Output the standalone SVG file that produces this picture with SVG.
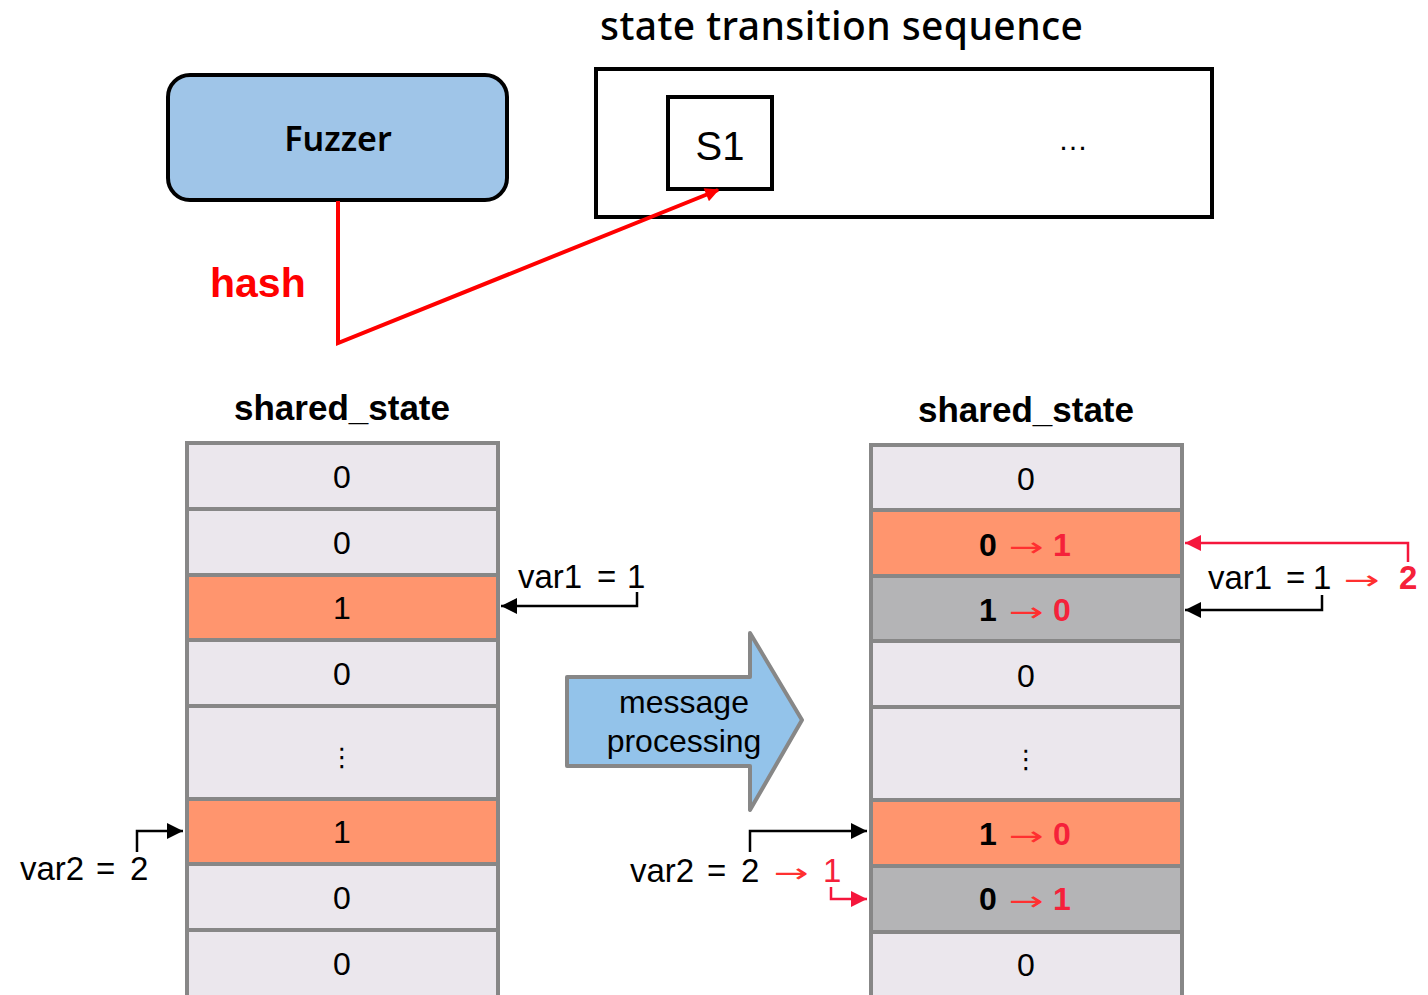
<svg xmlns="http://www.w3.org/2000/svg" width="1428" height="995" viewBox="0 0 1428 995">
<style>
.cell{fill:#ebe7ed;stroke:#878787;stroke-width:4}
.hot{fill:#ff956e;stroke:#878787;stroke-width:4}
.gry{fill:#b4b4b6;stroke:#878787;stroke-width:4}
.num{font-family:"Liberation Sans",Arial,sans-serif;font-size:32px;text-anchor:middle;fill:#000}
.lbl{font-family:"Liberation Sans",Arial,sans-serif;font-size:33px;fill:#000}
.hd{font-family:"Liberation Sans",Arial,sans-serif;font-size:35px;font-weight:bold;text-anchor:middle;fill:#000}
.r{fill:#f5213a}
.b{font-weight:bold}
.arw{font-family:"DejaVu Sans",sans-serif;font-size:26px;fill:#ff3030}
.blk{fill:none;stroke:#000;stroke-width:2.5}
.red{fill:none;stroke:#f5163c;stroke-width:2.5}
</style>
<defs>
<marker id="ab" viewBox="0 0 10 10" refX="10" refY="5" markerWidth="22" markerHeight="16" markerUnits="userSpaceOnUse" orient="auto"><path d="M0,0 L10,5 L0,10 z" fill="#000"/></marker>
<marker id="ar" viewBox="0 0 10 10" refX="10" refY="5" markerWidth="22" markerHeight="16" markerUnits="userSpaceOnUse" orient="auto"><path d="M0,0 L10,5 L0,10 z" fill="#f5163c"/></marker>
<marker id="ah" viewBox="0 0 10 10" refX="9" refY="5" markerWidth="18" markerHeight="14" markerUnits="userSpaceOnUse" orient="auto"><path d="M0,0 L10,5 L0,10 z" fill="#ff0000"/></marker>
</defs>
<rect width="1428" height="995" fill="#fff"/>

<g id="fuzzer">
<rect x="168" y="75" width="339" height="125" rx="22" fill="#9fc5e8" stroke="#000" stroke-width="4"/>
<text x="338" y="151" font-family="'Noto Sans',sans-serif" font-size="34" font-weight="600" text-anchor="middle">Fuzzer</text>
</g>

<g id="sequence">
<text x="600" y="40" font-family="'Noto Sans','Noto Sans CJK SC',sans-serif" font-size="39" font-weight="500" textLength="483" lengthAdjust="spacing">state transition sequence</text>
<rect x="596" y="69" width="616" height="148" fill="#fff" stroke="#000" stroke-width="4"/>
<g id="s1">
<rect x="668" y="97" width="104" height="92" fill="#fff" stroke="#000" stroke-width="4"/>
<text x="720" y="160" font-family="'Liberation Sans',Arial,sans-serif" font-size="40" text-anchor="middle">S1</text>
</g>
<text x="1073" y="150" font-family="'Liberation Sans',Arial,sans-serif" font-size="30" text-anchor="middle">…</text>
</g>

<g id="hash-label">
<text x="210" y="297" font-family="'Liberation Sans',Arial,sans-serif" font-size="41" font-weight="bold" fill="#ff0000">hash</text>
</g>

<g id="left-state">
<text x="342" y="420" class="hd">shared_state</text>
<rect x="187" y="443" width="311" height="66" class="cell"/>
<rect x="187" y="509" width="311" height="66" class="cell"/>
<rect x="187" y="575" width="311" height="65" class="hot"/>
<rect x="187" y="640" width="311" height="66" class="cell"/>
<rect x="187" y="706" width="311" height="93" class="cell"/>
<rect x="187" y="799" width="311" height="65" class="hot"/>
<rect x="187" y="864" width="311" height="66" class="cell"/>
<rect x="187" y="930" width="311" height="80" class="cell"/>
<text x="342" y="488" class="num">0</text>
<text x="342" y="554" class="num">0</text>
<text x="342" y="619" class="num">1</text>
<text x="342" y="685" class="num">0</text>
<text x="342" y="766" font-family="'DejaVu Sans',sans-serif" font-size="26" text-anchor="middle">⋮</text>
<text x="342" y="843" class="num">1</text>
<text x="342" y="909" class="num">0</text>
<text x="342" y="975" class="num">0</text>
</g>

<g id="right-state">
<text x="1026" y="422" class="hd">shared_state</text>
<rect x="871" y="445" width="311" height="65" class="cell"/>
<rect x="871" y="510" width="311" height="66" class="hot"/>
<rect x="871" y="576" width="311" height="65" class="gry"/>
<rect x="871" y="641" width="311" height="66" class="cell"/>
<rect x="871" y="707" width="311" height="93" class="cell"/>
<rect x="871" y="800" width="311" height="66" class="hot"/>
<rect x="871" y="866" width="311" height="66" class="gry"/>
<rect x="871" y="932" width="311" height="80" class="cell"/>
<text x="1026" y="490" class="num">0</text>
<text y="556" class="num"><tspan x="988" class="b">0</tspan><tspan x="1062" class="r b">1</tspan></text>
<text x="1009" y="556" class="arw" textLength="35" lengthAdjust="spacingAndGlyphs">→</text>
<text y="621" class="num"><tspan x="988" class="b">1</tspan><tspan x="1062" class="r b">0</tspan></text>
<text x="1009" y="621" class="arw" textLength="35" lengthAdjust="spacingAndGlyphs">→</text>
<text x="1026" y="687" class="num">0</text>
<text x="1026" y="768" font-family="'DejaVu Sans',sans-serif" font-size="26" text-anchor="middle">⋮</text>
<text y="845" class="num"><tspan x="988" class="b">1</tspan><tspan x="1062" class="r b">0</tspan></text>
<text x="1009" y="845" class="arw" textLength="35" lengthAdjust="spacingAndGlyphs">→</text>
<text y="910" class="num"><tspan x="988" class="b">0</tspan><tspan x="1062" class="r b">1</tspan></text>
<text x="1009" y="910" class="arw" textLength="35" lengthAdjust="spacingAndGlyphs">→</text>
<text x="1026" y="976" class="num">0</text>
</g>

<g id="message-processing">
<path d="M567,677 L750,677 L750,633 L802,720 L750,810 L750,766 L567,766 Z" fill="#93c3ea" stroke="#878787" stroke-width="4" stroke-linejoin="round"/>
<text x="684" y="713" class="num">message</text>
<text x="684" y="752" class="num">processing</text>
</g>

<g id="labels">
<text y="588" class="lbl"><tspan x="518">var1</tspan><tspan x="597">=</tspan><tspan x="627">1</tspan></text>
<text y="880" class="lbl"><tspan x="20">var2</tspan><tspan x="96">=</tspan><tspan x="130">2</tspan></text>
<text y="589" class="lbl"><tspan x="1208">var1</tspan><tspan x="1286">=</tspan><tspan x="1313">1</tspan><tspan x="1399" class="r b">2</tspan></text>
<text x="1344" y="589" class="arw" textLength="36" lengthAdjust="spacingAndGlyphs">→</text>
<text y="882" class="lbl"><tspan x="630">var2</tspan><tspan x="707">=</tspan><tspan x="741">2</tspan><tspan x="823" class="r">1</tspan></text>
<text x="774" y="882" class="arw" textLength="35" lengthAdjust="spacingAndGlyphs">→</text>
</g>

<g id="connectors">
<path d="M338,201 L338,343 L718,190" fill="none" stroke="#ff0000" stroke-width="4" marker-end="url(#ah)"/>
<path d="M637,592 L637,606 L501,606" class="blk" marker-end="url(#ab)"/>
<path d="M137,852 L137,831 L183,831" class="blk" marker-end="url(#ab)"/>
<path d="M1408,562 L1408,543 L1185,543" class="red" marker-end="url(#ar)"/>
<path d="M1322,595 L1322,610 L1185,610" class="blk" marker-end="url(#ab)"/>
<path d="M750,852 L750,831 L867,831" class="blk" marker-end="url(#ab)"/>
<path d="M831,887 L831,899 L867,899" class="red" marker-end="url(#ar)"/>
</g>
</svg>
